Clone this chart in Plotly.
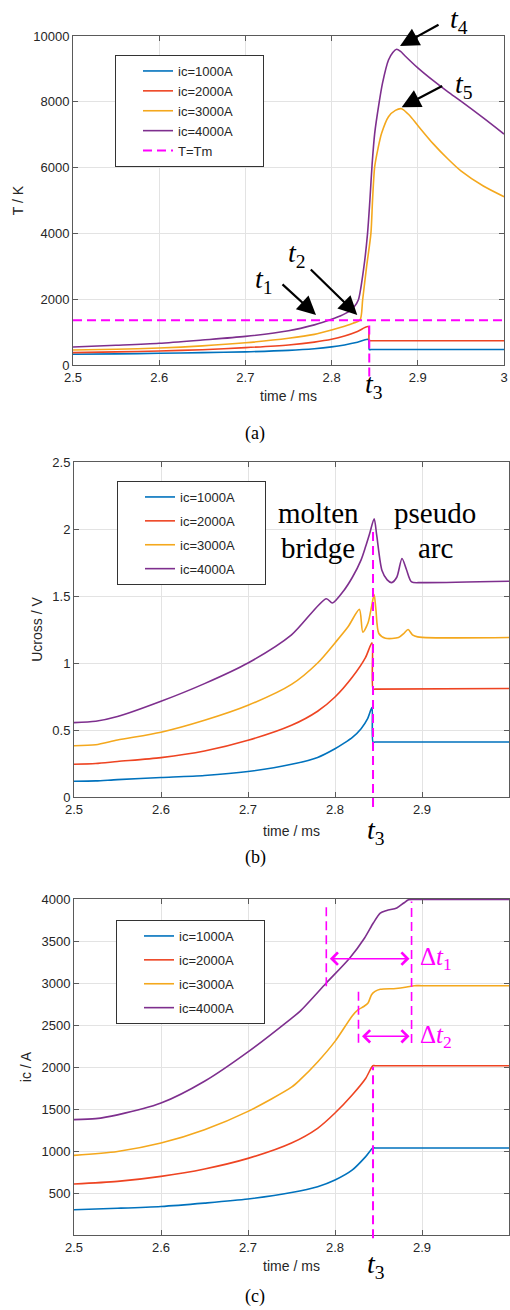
import plotly.graph_objects as go

# ---------------- data ----------------
labels = ["ic=1000A", "ic=2000A", "ic=3000A", "ic=4000A"]
colors = ["#0072BD", "#EE4422", "#F4A81D", "#7E2F8E"]
MAG = "#FF00FF"
T_MELT = 1358
T3 = 2.8437

# (a) temperature T / K
ta_12 = [2.5, 2.55, 2.6, 2.65, 2.7, 2.75, 2.78, 2.8, 2.815, 2.83, 2.8425, 2.8437, 2.846, 3.0]
Ta_1000 = [325, 338, 355, 375, 400, 445, 495, 550, 610, 690, 775, 470, 470, 470]
Ta_2000 = [375, 398, 425, 465, 527, 610, 695, 780, 880, 1020, 1165, 740, 739, 735]
ta_3000 = [2.5, 2.55, 2.6, 2.65, 2.7, 2.75, 2.78, 2.8, 2.815, 2.825, 2.833, 2.836, 2.8406,
           2.8456, 2.8475, 2.85, 2.854, 2.858, 2.866, 2.874, 2.881, 2.89, 2.9, 2.918, 2.935,
           2.95, 2.976, 3.0]
Ta_3000 = [455, 480, 515, 580, 675, 811, 930, 1064, 1180, 1270, 1370, 1975, 2989,
           4000, 5015, 6028, 6600, 7042, 7548, 7740, 7790, 7600, 7280, 6720, 6260,
           5900, 5440, 5116]
ta_4000 = [2.5, 2.55, 2.6, 2.65, 2.7, 2.75, 2.78, 2.79, 2.8, 2.81, 2.82, 2.826, 2.831, 2.8375,
           2.8417, 2.8444, 2.847, 2.85, 2.855, 2.859, 2.866, 2.871, 2.8754, 2.88, 2.885, 2.9,
           2.918, 2.935, 2.95, 2.976, 3.0]
Ta_4000 = [547, 600, 660, 760, 870, 1040, 1220, 1300, 1390, 1490, 1620, 1760, 1975, 2990,
           4000, 5000, 6100, 7040, 7950, 8560, 9270, 9500, 9595, 9530, 9400, 9030,
           8640, 8300, 8020, 7510, 7020]

# (b) Ucross / V
tb_1000 = [2.5, 2.525, 2.55, 2.6, 2.65, 2.7, 2.75, 2.78, 2.8, 2.81, 2.82, 2.83, 2.8375,
           2.8425, 2.8437, 2.846, 3.0]
Ub_1000 = [0.117, 0.12, 0.13, 0.145, 0.16, 0.19, 0.244, 0.295, 0.36, 0.40, 0.445, 0.51, 0.585,
           0.667, 0.41, 0.41, 0.41]
tb_2000 = [2.5, 2.525, 2.55, 2.6, 2.65, 2.7, 2.75, 2.78, 2.8, 2.82, 2.835, 2.8425, 2.8437,
           2.846, 3.0]
Ub_2000 = [0.244, 0.25, 0.265, 0.294, 0.343, 0.423, 0.535, 0.64, 0.746, 0.895, 1.04, 1.15,
           0.805, 0.805, 0.81]
tb_3000 = [2.5, 2.525, 2.55, 2.6, 2.65, 2.7, 2.75, 2.78, 2.8, 2.815, 2.828, 2.832, 2.838,
           2.842, 2.845, 2.847, 2.8504, 2.858, 2.873, 2.879, 2.884, 2.889, 2.895, 3.0]
Ub_3000 = [0.383, 0.39, 0.425, 0.483, 0.572, 0.684, 0.84, 1.0, 1.15, 1.27, 1.40, 1.23, 1.30,
           1.42, 1.51, 1.40, 1.22, 1.185, 1.19, 1.22, 1.25, 1.21, 1.195, 1.19]
tb_4000 = [2.5, 2.525, 2.55, 2.6, 2.65, 2.7, 2.75, 2.79, 2.797, 2.81, 2.82, 2.83, 2.835,
           2.84, 2.845, 2.848, 2.854, 2.86, 2.865, 2.871, 2.877, 2.882, 2.888, 2.9, 3.0]
Ub_4000 = [0.555, 0.565, 0.60, 0.714, 0.846, 1.0, 1.21, 1.48, 1.448, 1.54, 1.64, 1.77, 1.865,
           1.97, 2.077, 1.95, 1.69, 1.62, 1.60, 1.64, 1.78, 1.70, 1.605, 1.60, 1.61]

# (c) ic / A
tc_12 = [2.5, 2.55, 2.6, 2.65, 2.7, 2.75, 2.78, 2.8, 2.82, 2.835, 2.8435, 2.846, 3.0]
Ic_1000 = [301, 318, 340, 380, 428, 505, 575, 655, 775, 930, 1036, 1036, 1036]
Ic_2000 = [607, 638, 698, 786, 912, 1095, 1270, 1452, 1670, 1860, 2015, 2015, 2015]
tc_3000 = [2.5, 2.55, 2.6, 2.65, 2.7, 2.75, 2.76, 2.78, 2.8, 2.82, 2.8267, 2.833, 2.838,
           2.842, 2.846, 2.852, 2.87, 2.8825, 2.8911, 2.9, 3.0]
Ic_3000 = [948, 995, 1095, 1254, 1472, 1760, 1849, 2060, 2305, 2610, 2682, 2720, 2762,
           2861, 2900, 2925, 2935, 2952, 2968, 2968, 2968]
tc_4000 = [2.5, 2.525, 2.55, 2.6, 2.65, 2.7, 2.75, 2.76, 2.79, 2.817, 2.834, 2.844, 2.852,
           2.8595, 2.871, 2.879, 2.8846, 2.895, 3.0]
Ic_4000 = [1373, 1385, 1430, 1570, 1830, 2180, 2580, 2665, 3000, 3298, 3536, 3714, 3833,
           3864, 3893, 3952, 3992, 3995, 3995]

# Delta-t markers in (c)
dt1 = [2.79, 2.888]
dt2 = [2.827, 2.888]
dt1_y, dt2_y = 3290, 2365

x_ticks = [2.5, 2.6, 2.7, 2.8, 2.9, 3.0]
x_ticktext = ["2.5", "2.6", "2.7", "2.8", "2.9", "3"]
ya_ticks = [0, 2000, 4000, 6000, 8000, 10000]
ya_text = ["0", "2000", "4000", "6000", "8000", "10000"]
yb_ticks = [0, 0.5, 1, 1.5, 2, 2.5]
yb_text = ["0", "0.5", "1", "1.5", "2", "2.5"]
yc_ticks = [500, 1000, 1500, 2000, 2500, 3000, 3500, 4000]
yc_text = ["500", "1000", "1500", "2000", "2500", "3000", "3500", "4000"]

# ---------------- figure ----------------
W, H = 510, 1310
SANS = "Liberation Sans, Arial, sans-serif"
SERIF = "Liberation Serif, Times New Roman, serif"
DASH = "9px,5px"

fig = go.Figure()

panel_a = [(ta_12, Ta_1000), (ta_12, Ta_2000), (ta_3000, Ta_3000), (ta_4000, Ta_4000)]
panel_b = [(tb_1000, Ub_1000), (tb_2000, Ub_2000), (tb_3000, Ub_3000), (tb_4000, Ub_4000)]
panel_c = [(tc_12, Ic_1000), (tc_12, Ic_2000), (tc_3000, Ic_3000), (tc_4000, Ic_4000)]

NB = "\u00a0" * 7
line_kw = dict(width=1.6, shape="spline", smoothing=0.75)
for i, (xs, ys) in enumerate(panel_a):
    fig.add_trace(go.Scatter(x=xs, y=ys, mode="lines", name=labels[i] + NB,
                             line=dict(color=colors[i], **line_kw),
                             xaxis="x", yaxis="y", legend="legend"))
fig.add_trace(go.Scatter(x=[x_ticks[0], x_ticks[-1]], y=[T_MELT, T_MELT], mode="lines",
                         name="T=Tm", line=dict(color=MAG, width=2, dash=DASH),
                         xaxis="x", yaxis="y", legend="legend"))
for i, (xs, ys) in enumerate(panel_b):
    fig.add_trace(go.Scatter(x=xs, y=ys, mode="lines", name=labels[i] + NB,
                             line=dict(color=colors[i], **line_kw), legendgroup="b%d" % i,
                             xaxis="x2", yaxis="y2", legend="legend2"))
for i, (xs, ys) in enumerate(panel_c):
    fig.add_trace(go.Scatter(x=xs, y=ys, mode="lines", name=labels[i] + NB,
                             line=dict(color=colors[i], **line_kw), legendgroup="c%d" % i,
                             xaxis="x3", yaxis="y3", legend="legend3"))

# plot-area pixel boxes (left, right, top, bottom)
boxes = {"a": (73, 504, 36, 365), "b": (74, 509, 462, 797), "c": (74, 509, 899, 1235)}


def xdom(b):
    return [b[0] / W, b[1] / W]


def ydom(b):
    return [1 - b[3] / H, 1 - b[2] / H]


axis_common = dict(showline=True, linecolor="#5a5a5a", linewidth=1, mirror="allticks",
                   ticks="inside", ticklen=5, tickcolor="#5a5a5a", showgrid=True,
                   gridcolor="#e3e3e3", gridwidth=1, zeroline=False, automargin=False,
                   tickfont=dict(family=SANS, size=13, color="#262626"))
title_font = dict(family=SANS, size=14, color="#262626")

for k, (xa, ya) in zip("abc", [("xaxis", "yaxis"), ("xaxis2", "yaxis2"), ("xaxis3", "yaxis3")]):
    b = boxes[k]
    suffix = "" if xa == "xaxis" else xa[-1]
    fig.layout[xa] = dict(domain=xdom(b), anchor="y" + suffix, range=[2.5, 3.0],
                          tickvals=x_ticks, ticktext=x_ticktext,
                          title=dict(text="time / ms", font=title_font, standoff=7),
                          **axis_common)
    fig.layout[ya] = dict(domain=ydom(b), anchor="x" + suffix, **axis_common)

fig.layout.xaxis2.title.standoff = 10
fig.layout.yaxis.update(range=[0, 10000], tickvals=ya_ticks, ticktext=ya_text,
                        title=dict(text="T / K", font=title_font, standoff=6))
fig.layout.yaxis2.update(range=[0, 2.5], tickvals=yb_ticks, ticktext=yb_text,
                         title=dict(text="Ucross / V", font=title_font, standoff=6))
fig.layout.yaxis3.update(range=[0, 4000], tickvals=yc_ticks, ticktext=yc_text,
                         title=dict(text="ic / A", font=title_font, standoff=6))

legend_common = dict(bgcolor="white", bordercolor="#333333", borderwidth=1,
                     font=dict(family=SANS, size=13, color="#262626"),
                     xanchor="left", yanchor="top", indentation=22, itemwidth=30)
fig.update_layout(
    legend=dict(x=115 / W, y=1 - 55 / H, **legend_common),
    legend2=dict(x=117 / W, y=1 - 481 / H, tracegroupgap=4, **legend_common),
    legend3=dict(x=116 / W, y=1 - 920 / H, tracegroupgap=4, **legend_common),
)

shapes = []
# t3 vertical lines
shapes.append(dict(type="line", xref="x", yref="y domain", x0=T3, x1=T3,
                   y0=-0.035, y1=T_MELT / 10000, line=dict(color=MAG, width=2, dash=DASH)))
shapes.append(dict(type="line", xref="x2", yref="y2 domain", x0=T3, x1=T3,
                   y0=-0.03, y1=2.0 / 2.5, line=dict(color=MAG, width=2, dash=DASH)))
shapes.append(dict(type="line", xref="x3", yref="y3 domain", x0=T3, x1=T3,
                   y0=-0.01, y1=2000 / 4000, line=dict(color=MAG, width=2, dash=DASH)))
# delta-t guide lines in (c)
shapes.append(dict(type="line", xref="x3", yref="y3", x0=dt1[0], x1=dt1[0], y0=2960, y1=3952,
                   line=dict(color=MAG, width=1.6, dash=DASH)))
shapes.append(dict(type="line", xref="x3", yref="y3", x0=dt1[1], x1=dt1[1], y0=2286, y1=3970,
                   line=dict(color=MAG, width=1.6, dash=DASH)))
shapes.append(dict(type="line", xref="x3", yref="y3", x0=dt2[0], x1=dt2[0], y0=2290, y1=2900,
                   line=dict(color=MAG, width=1.6, dash=DASH)))
fig.update_layout(shapes=shapes)

ann = []
tfont = dict(family=SERIF, size=28, color="black")
# black arrows (a)
for (x, y, ax, ay) in [(2.7819, 1520, -35, -32), (2.8298, 1520, -48, -47),
                       (2.8794, 9696, 40, -22), (2.8813, 7833, 42, -22)]:
    ann.append(dict(x=x, y=y, xref="x", yref="y", ax=ax, ay=ay, text="", showarrow=True,
                    arrowhead=2, arrowsize=1.7, arrowwidth=2.2, arrowcolor="black"))


def pxlab(txt, xpx, ypx, font):
    return dict(x=xpx / W, y=1 - ypx / H, xref="paper", yref="paper", showarrow=False,
                text=txt, font=font, xanchor="center", yanchor="middle")


# t labels, placed by pixel centre of the printed label
for (txt, xpx, ypx) in [("1", 264, 281), ("2", 297, 254), ("4", 459, 21), ("5", 464, 86),
                        ("3", 374, 385)]:
    ann.append(pxlab("<i>t</i><sub>%s</sub>" % txt, xpx, ypx, tfont))
ann.append(pxlab("<i>t</i><sub>3</sub>", 376, 831, tfont))
ann.append(pxlab("<i>t</i><sub>3</sub>", 376, 1265, tfont))
# molten bridge / pseudo arc
bfont = dict(family=SERIF, size=29, color="black")
for (txt, xpx, ypx) in [("molten", 318, 513), ("bridge", 318, 548),
                        ("pseudo", 435, 513), ("arc", 435, 548)]:
    ann.append(pxlab(txt, xpx, ypx, bfont))
# delta t arrows
for (xs, yv, lab) in [(dt1, dt1_y, "1"), (dt2, dt2_y, "2")]:
    ann.append(dict(x=xs[1], y=yv, ax=xs[0], ay=yv, xref="x3", yref="y3", axref="x3",
                    ayref="y3", text="", showarrow=True, arrowside="end+start",
                    arrowhead=4, startarrowhead=4, arrowsize=1.6, startarrowsize=1.6,
                    arrowwidth=1.5, arrowcolor=MAG, standoff=2, startstandoff=2))
    ann.append(dict(x=xs[1] + 0.007, y=yv, xref="x3", yref="y3", xanchor="left",
                    showarrow=False, text="\u0394<i>t</i><sub>%s</sub>" % lab,
                    font=dict(family=SERIF, size=25, color=MAG)))
# captions
cfont = dict(family=SERIF, size=18, color="black")
for (txt, ypx) in [("(a)", 433), ("(b)", 857), ("(c)", 1296)]:
    ann.append(pxlab(txt, 255, ypx, cfont))
fig.update_layout(annotations=ann)

fig.update_layout(width=W, height=H, margin=dict(l=0, r=0, t=0, b=0, autoexpand=False),
                  paper_bgcolor="white", plot_bgcolor="white", showlegend=True)

fig.write_html("out.html", config={"displayModeBar": False},
               post_script="document.body.style.margin='0';document.body.style.padding='0';")
